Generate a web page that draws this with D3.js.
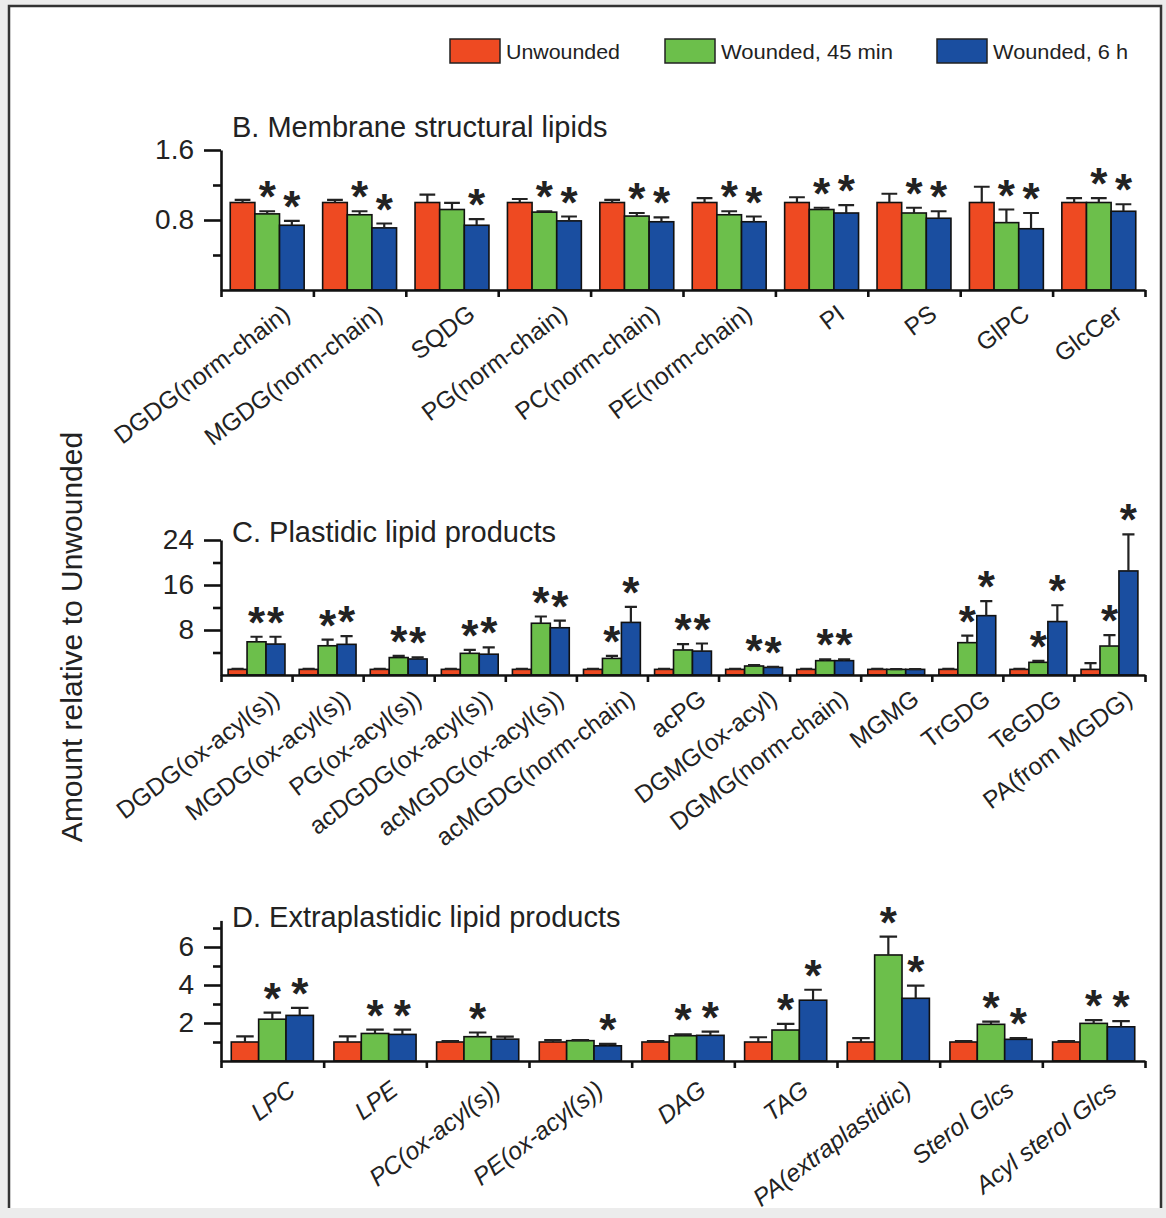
<!DOCTYPE html>
<html>
<head>
<meta charset="utf-8">
<script src="https://cdn.jsdelivr.net/npm/d3@7"></script>
<style>
  body { margin: 0; background: #fff; }
  svg { display: block; font-family: "Liberation Sans", Arial, sans-serif; }
</style>
</head>
<body>
<svg id="chart" width="1166" height="1218"></svg>
<script>
const width = 1166;
const height = 1218;

const seriesNames = ["Unwounded", "Wounded, 45 min", "Wounded, 6 h"];
const seriesColors = ["#EE4A22", "#6CBF4B", "#1A4EA0"];

// B. Membrane structural lipids
const catsB = ["DGDG(norm-chain)", "MGDG(norm-chain)", "SQDG", "PG(norm-chain)", "PC(norm-chain)",
  "PE(norm-chain)", "PI", "PS", "GlPC", "GlcCer"];
const unwB = [1, 1, 1, 1, 1, 1, 1, 1, 1, 1];
const unwErrB = [0.03, 0.03, 0.09, 0.04, 0.03, 0.05, 0.06, 0.10, 0.18, 0.05];
const w45B = [0.87, 0.86, 0.92, 0.89, 0.845, 0.86, 0.92, 0.88, 0.77, 1.0];
const w45ErrB = [0.03, 0.04, 0.075, 0.01, 0.035, 0.04, 0.02, 0.06, 0.15, 0.05];
const w6B = [0.74, 0.71, 0.74, 0.79, 0.78, 0.78, 0.88, 0.82, 0.70, 0.90];
const w6ErrB = [0.05, 0.05, 0.07, 0.05, 0.05, 0.06, 0.09, 0.08, 0.18, 0.08];
const star45B = [1, 1, 0, 1, 1, 1, 1, 1, 1, 1];
const star6B = [1, 1, 1, 1, 1, 1, 1, 1, 1, 1];

// C. Plastidic lipid products
const catsC = ["DGDG(ox-acyl(s))", "MGDG(ox-acyl(s))", "PG(ox-acyl(s))", "acDGDG(ox-acyl(s))",
  "acMGDG(ox-acyl(s))", "acMGDG(norm-chain)", "acPG", "DGMG(ox-acyl)", "DGMG(norm-chain)",
  "MGMG", "TrGDG", "TeGDG", "PA(from MGDG)"];
const unwC = [1, 1, 1, 1, 1, 1, 1, 1, 1, 1, 1, 1, 1];
const unwErrC = [0.1, 0.1, 0.1, 0.1, 0.1, 0.1, 0.1, 0.1, 0.1, 0.1, 0.1, 0.1, 1.1];
const w45C = [5.9, 5.2, 3.1, 3.85, 9.2, 2.95, 4.45, 1.6, 2.55, 1.0, 5.75, 2.25, 5.15];
const w45ErrC = [0.9, 1.1, 0.3, 0.6, 1.2, 0.45, 1.05, 0.15, 0.25, 0.05, 1.25, 0.25, 1.95];
const w6C = [5.5, 5.45, 2.85, 3.7, 8.4, 9.35, 4.25, 1.35, 2.55, 1.0, 10.55, 9.5, 18.5];
const w6ErrC = [1.3, 1.45, 0.3, 1.2, 1.25, 2.75, 1.35, 0.1, 0.25, 0.05, 2.6, 2.9, 6.5];
const star45C = [1, 1, 1, 1, 1, 1, 1, 1, 1, 0, 1, 1, 1];
const star6C = [1, 1, 1, 1, 1, 1, 1, 1, 1, 0, 1, 1, 1];

// D. Extraplastidic lipid products
const catsD = ["LPC", "LPE", "PC(ox-acyl(s))", "PE(ox-acyl(s))", "DAG", "TAG",
  "PA(extraplastidic)", "Sterol Glcs", "Acyl sterol Glcs"];
const unwD = [1, 1, 1, 1, 1, 1, 1, 1, 1];
const unwErrD = [0.3, 0.3, 0.05, 0.1, 0.05, 0.25, 0.2, 0.05, 0.05];
const w45D = [2.2, 1.45, 1.28, 1.07, 1.33, 1.63, 5.58, 1.93, 1.98];
const w45ErrD = [0.35, 0.2, 0.22, 0.03, 0.07, 0.32, 0.97, 0.14, 0.17];
const w6D = [2.4, 1.4, 1.15, 0.8, 1.35, 3.2, 3.3, 1.14, 1.8];
const w6ErrD = [0.4, 0.25, 0.13, 0.1, 0.2, 0.55, 0.67, 0.06, 0.3];
const star45D = [1, 1, 1, 0, 1, 1, 1, 1, 1];
const star6D = [1, 1, 0, 1, 1, 1, 1, 1, 1];

const noStars = n => new Array(n).fill(0);

const panels = [
  { title: "B. Membrane structural lipids", cats: catsB,
    values: [unwB, w45B, w6B], errs: [unwErrB, w45ErrB, w6ErrB], stars: [noStars(catsB.length), star45B, star6B],
    max: 1.6, major: [0.8, 1.6], minor: [0.4, 1.2], fmt: d3.format(".1f"),
    y0: 290, yTop: 150, titleY: 137, italic: false, labDy: 13 },
  { title: "C. Plastidic lipid products", cats: catsC,
    values: [unwC, w45C, w6C], errs: [unwErrC, w45ErrC, w6ErrC], stars: [noStars(catsC.length), star45C, star6C],
    max: 24, major: [8, 16, 24], minor: [4, 12, 20], fmt: d3.format("d"),
    y0: 675, yTop: 540, titleY: 542, italic: false, labDy: 13 },
  { title: "D. Extraplastidic lipid products", cats: catsD,
    values: [unwD, w45D, w6D], errs: [unwErrD, w45ErrD, w6ErrD], stars: [noStars(catsD.length), star45D, star6D],
    max: 7.4, major: [2, 4, 6], minor: [1, 3, 5, 7], fmt: d3.format("d"),
    y0: 1061, yTop: 920.4, titleY: 927, italic: true, labDy: 18 }
];

const X0 = 221, X1 = 1145;
const svg = d3.select("#chart");

// background and frame
svg.append("rect").attr("width", width).attr("height", height).attr("fill", "#ececec");
svg.append("rect").attr("x", 9).attr("y", 6).attr("width", 1152).attr("height", 1202).attr("fill", "#fff");
svg.append("path")
  .attr("d", "M9,1208V6H1161V1208")
  .attr("fill", "none").attr("stroke", "#333").attr("stroke-width", 2.5);

// legend
const legendX = [450, 665, 937];
const legendTextW = [114, 172, 135];
seriesNames.forEach((name, i) => {
  svg.append("rect")
    .attr("x", legendX[i]).attr("y", 39).attr("width", 50).attr("height", 24)
    .attr("fill", seriesColors[i]).attr("stroke", "#222").attr("stroke-width", 1.5);
  svg.append("text")
    .attr("x", legendX[i] + 56).attr("y", 59)
    .attr("font-size", 20).attr("fill", "#222")
    .attr("textLength", legendTextW[i]).attr("lengthAdjust", "spacingAndGlyphs")
    .text(name);
});

// y axis title
svg.append("text")
  .attr("transform", "translate(82,637) rotate(-90)")
  .attr("text-anchor", "middle")
  .attr("font-size", 30).attr("fill", "#222")
  .text("Amount relative to Unwounded");

panels.forEach(p => {
  const g = svg.append("g");
  const y = d3.scaleLinear().domain([0, p.max]).range([p.y0, p.yTop]);
  const x = d3.scaleBand().domain(p.cats).range([X0, X1]).paddingInner(0.2).paddingOuter(0.1);
  const xs = d3.scaleBand().domain([0, 1, 2]).range([0, x.bandwidth()]);

  const rows = p.cats.flatMap((c, i) => [0, 1, 2].map(s => ({
    c, s, v: p.values[s][i], e: p.errs[s][i], star: p.stars[s][i]
  })));

  // bars
  g.selectAll("rect.bar")
    .data(rows)
    .join("rect")
    .attr("class", "bar")
    .attr("x", d => x(d.c) + xs(d.s))
    .attr("y", d => y(d.v))
    .attr("width", xs.bandwidth())
    .attr("height", d => y(0) - y(d.v))
    .attr("fill", d => seriesColors[d.s])
    .attr("stroke", "#111").attr("stroke-width", 1.6);

  // error bars (upper only)
  const cap = xs.bandwidth() * 0.32;
  g.selectAll("path.err")
    .data(rows)
    .join("path")
    .attr("class", "err")
    .attr("d", d => {
      const cx = x(d.c) + xs(d.s) + xs.bandwidth() / 2;
      const yt = y(d.v + d.e);
      return `M${cx},${y(d.v)}V${yt}M${cx - cap},${yt}H${cx + cap}`;
    })
    .attr("fill", "none").attr("stroke", "#222").attr("stroke-width", 2.2);

  // significance stars
  g.selectAll("text.star")
    .data(rows.filter(d => d.star))
    .join("text")
    .attr("class", "star")
    .attr("x", d => x(d.c) + xs(d.s) + xs.bandwidth() / 2)
    .attr("y", d => y(d.v + d.e) + 1)
    .attr("text-anchor", "middle")
    .attr("font-size", 44).attr("font-weight", "bold").attr("fill", "#222")
    .text("*");

  // y axis
  const yAxis = g.append("g")
    .attr("transform", `translate(${X0},0)`)
    .call(d3.axisLeft(y).tickValues(p.major).tickSize(17).tickSizeOuter(0).tickPadding(10).tickFormat(p.fmt));
  yAxis.select(".domain").attr("stroke", "#111").attr("stroke-width", 2.6);
  yAxis.selectAll(".tick line").attr("stroke", "#111").attr("stroke-width", 2.6);
  yAxis.selectAll(".tick text").attr("font-size", 28).attr("fill", "#222").attr("font-family", "Liberation Sans, Arial, sans-serif");

  const yMinor = g.append("g")
    .attr("transform", `translate(${X0},0)`)
    .call(d3.axisLeft(y).tickValues(p.minor).tickSize(8).tickFormat(""));
  yMinor.select(".domain").remove();
  yMinor.selectAll(".tick line").attr("stroke", "#111").attr("stroke-width", 2.6);

  // x axis with ticks at group boundaries
  const xb = d3.scaleLinear().domain([0, p.cats.length]).range([X0, X1]);
  const xAxis = g.append("g")
    .attr("transform", `translate(0,${p.y0})`)
    .call(d3.axisBottom(xb).tickValues(d3.range(p.cats.length + 1)).tickSize(7).tickSizeOuter(0).tickFormat(""));
  xAxis.select(".domain").attr("stroke", "#111").attr("stroke-width", 2.6);
  xAxis.selectAll(".tick line").attr("stroke", "#111").attr("stroke-width", 2.6);

  // category labels
  g.selectAll("text.lab")
    .data(p.cats)
    .join("text")
    .attr("class", "lab")
    .attr("transform", d => `translate(${x(d) + x.bandwidth() / 2 + 14},${p.y0 + p.labDy}) rotate(-37)`)
    .attr("text-anchor", "end")
    .attr("dy", "0.72em")
    .attr("font-size", 24.5)
    .attr("font-style", p.italic ? "italic" : "normal")
    .attr("fill", "#222")
    .text(d => d);

  // panel title
  g.append("text")
    .attr("x", 232).attr("y", p.titleY)
    .attr("font-size", 29).attr("fill", "#222")
    .text(p.title);
});
</script>
</body>
</html>
